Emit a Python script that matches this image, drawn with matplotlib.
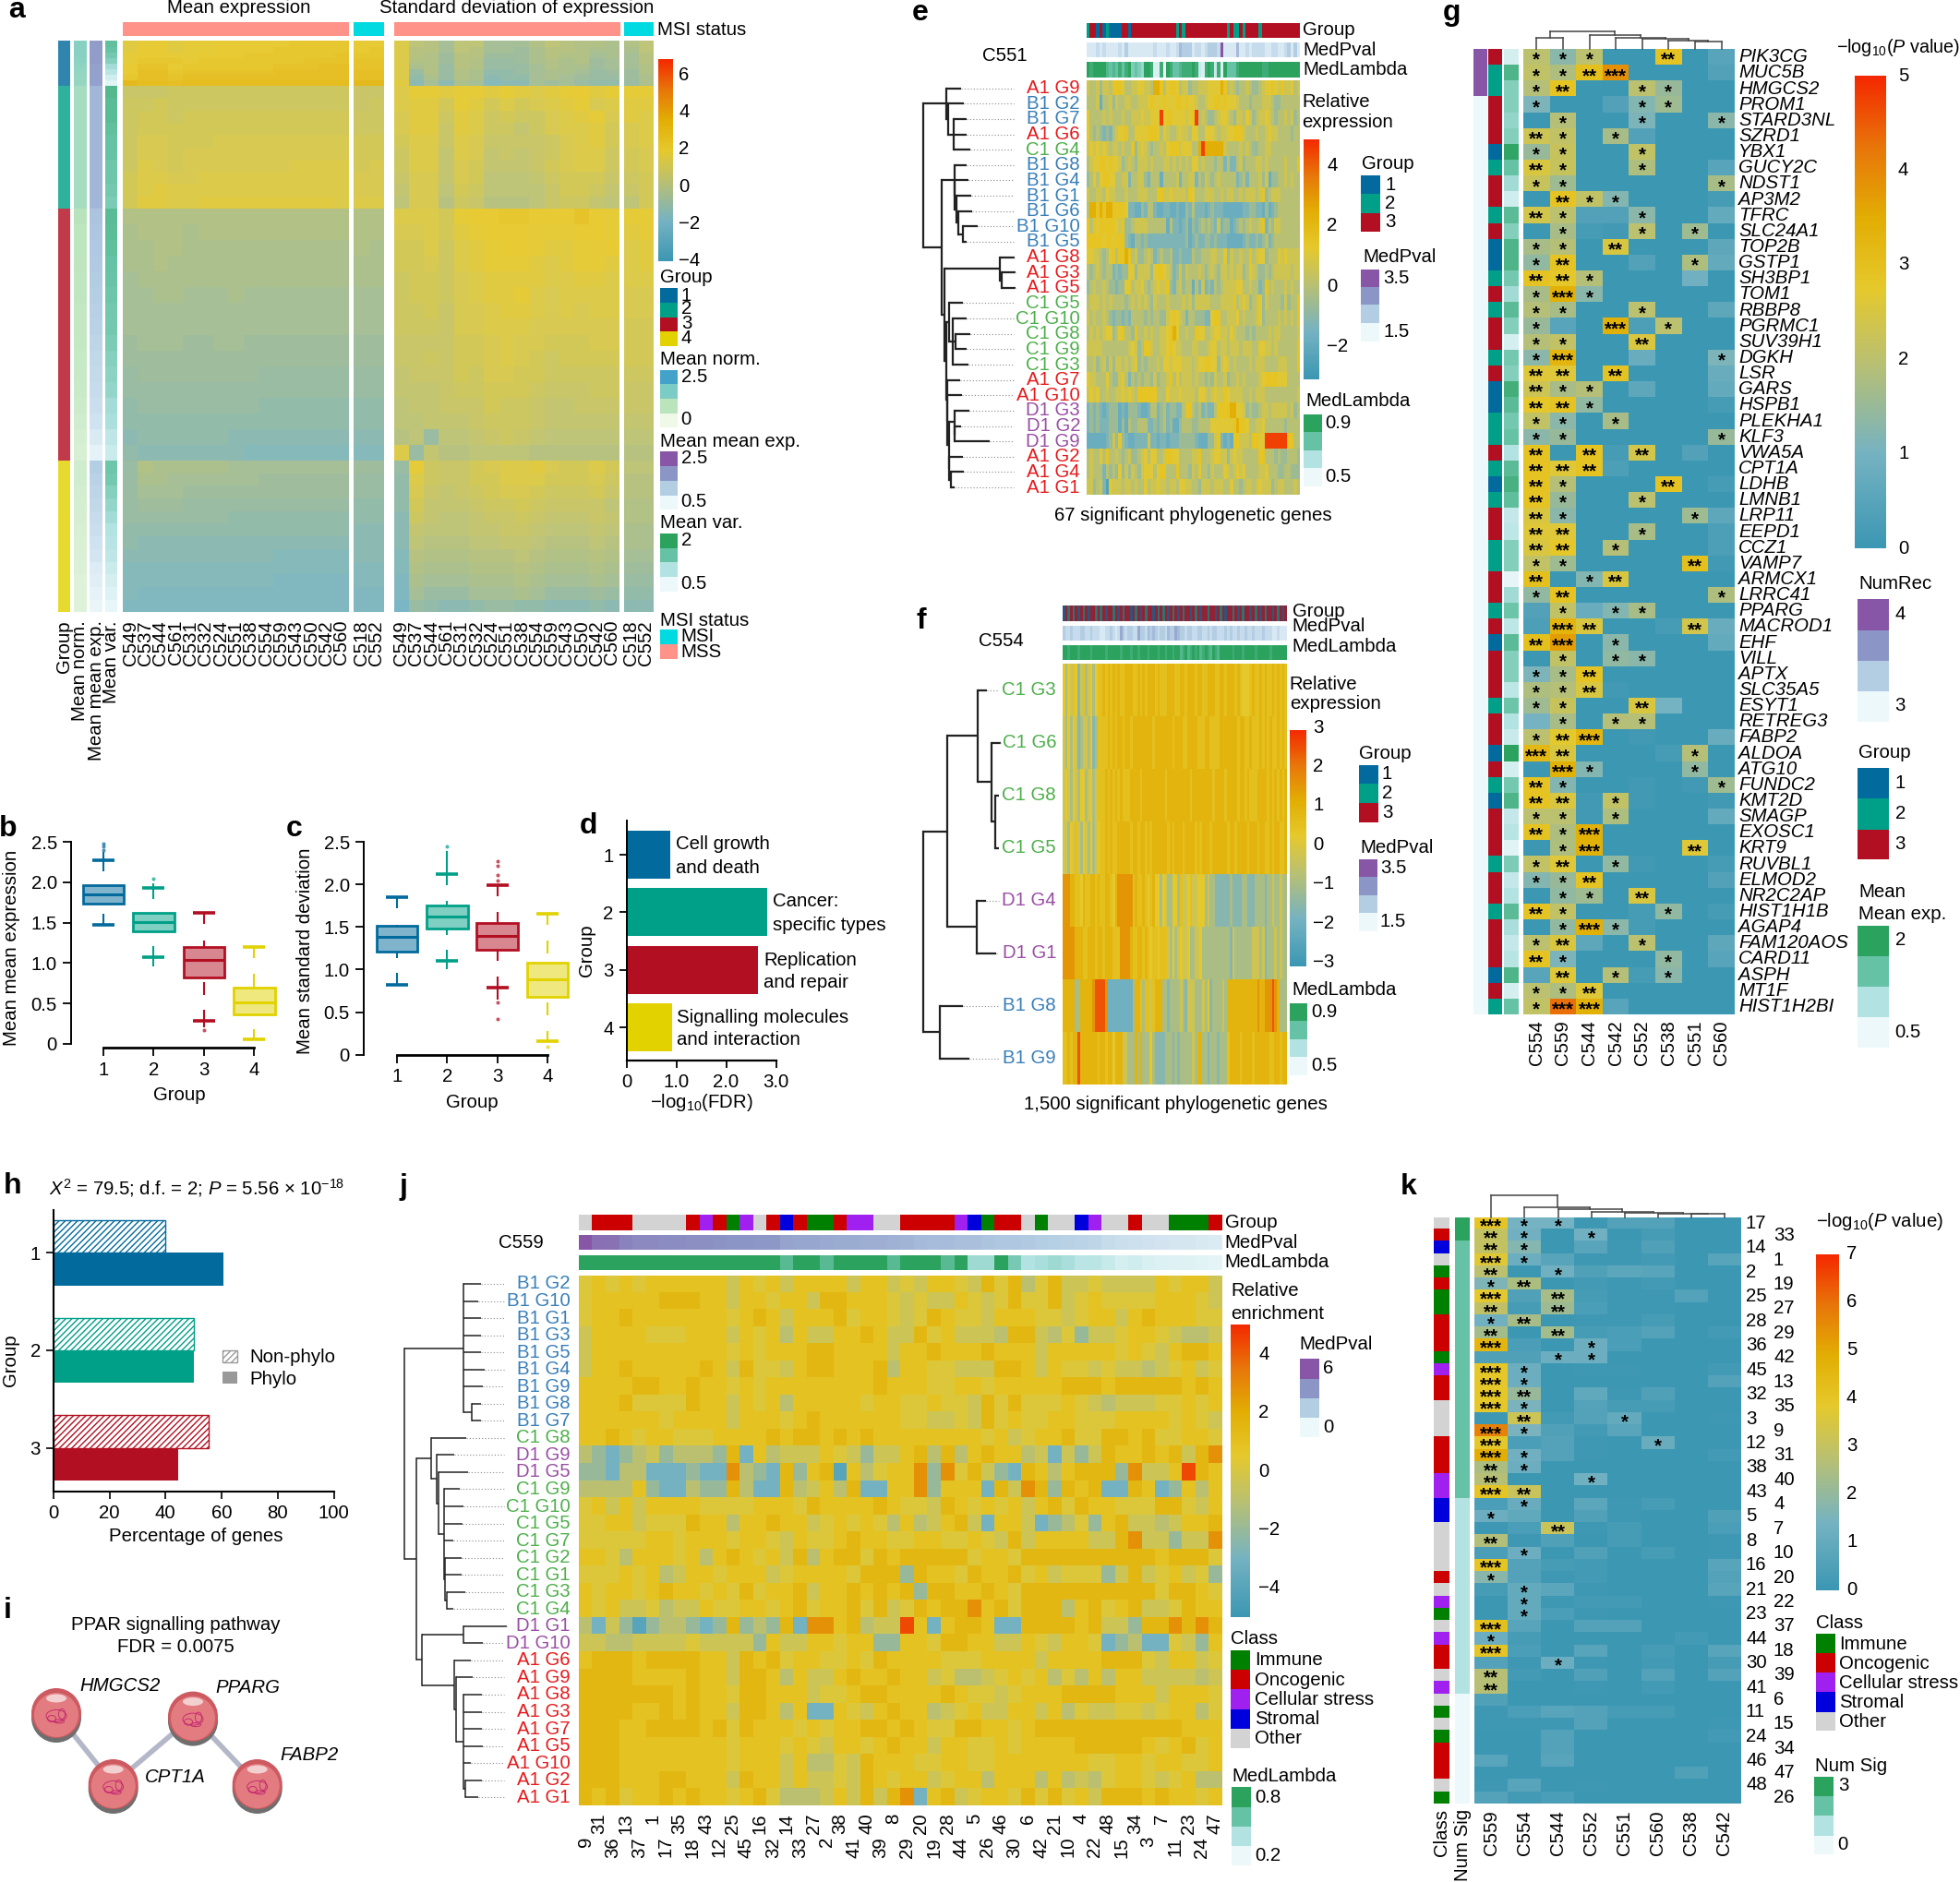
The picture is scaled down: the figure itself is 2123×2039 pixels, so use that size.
import matplotlib
matplotlib.use('Agg')
import numpy as np
import matplotlib.pyplot as plt
from matplotlib.colors import LinearSegmentedColormap, to_rgb
from matplotlib.patches import Rectangle, Circle, Ellipse

W, H = 2123, 2039
FS = 14.7
plt.rcParams['font.family'] = ['Liberation Sans', 'DejaVu Sans']
plt.rcParams['mathtext.fontset'] = 'custom'
plt.rcParams['mathtext.rm'] = 'Liberation Sans'
plt.rcParams['mathtext.it'] = 'Liberation Sans:italic'
plt.rcParams['mathtext.default'] = 'regular'
plt.rcParams['hatch.linewidth'] = 1.0

# ---------- shared colours ----------
GROUP_COL = {1: '#026A9C', 2: '#00A088', 3: '#B30F22', 4: '#E1D200'}
SET1 = {'A': '#E41A1C', 'B': '#377EB8', 'C': '#4DAF4A', 'D': '#984EA3'}
CLASS_COL = {'I': '#008000', 'O': '#CC0000', 'C': '#A020F0', 'S': '#0000DD', 'X': '#D3D3D3'}
MSI_COL = {'MSI': '#00DAE0', 'MSS': '#FF9289'}
GNBU = ['#f0f9e8', '#bae4bc', '#7bccc4', '#43a2ca']
BUPU = ['#edf8fb', '#b3cde3', '#8c96c6', '#8856a7']
BUGN = ['#edf8fb', '#b2e2e2', '#66c2a4', '#2ca25f']
HEAT = LinearSegmentedColormap.from_list('heat', [
    (0, '#3c97b3'), (.2, '#76b3c2'), (.4, '#bcc16f'), (.55, '#e6c92c'),
    (.7, '#e2ae04'), (.85, '#e8760a'), (1, '#f52800')])

# ---------- panel a ----------
A_MEAN_SAMPLES = ['C549', 'C537', 'C544', 'C561', 'C531', 'C532', 'C524', 'C551', 'C538',
                  'C554', 'C559', 'C543', 'C550', 'C542', 'C560']
A_MSI_SAMPLES = ['C518', 'C552']
A_ROW_GROUP = [1]*8 + [2]*10 + [3]*16 + [4]*12
A_ROW_WEIGHT = [6.1]*8 + [13.28]*10 + [17.06]*16 + [13.7]*12
# one base-36 character per cell, each step is 0.2 above -2.5
A_LEVEL_VALUES = [-2.5 + .2*k for k in range(36)]
A_MEAN = [
 'lmnlmmnnnnnoooonn', 'lnnlmmnnnnooooono', 'mnnmmnnnoooooopoo', 'mooonoooooooppppp',
 'nppnoooooopppqqpp', 'nqqoppppppqqqqqqq', 'oqqpqqqqqqqqqqqqq', 'srrqrrrrrrrrrrrss',
 'ggghhhhhhhhhhhhgg', 'hhihhhhhhhhhhhhgh', 'hiihiiiiiiiiiiihh', 'hiiiiiiiiiiiiiihh', 'hjjiiijjjjjjjjjii',
 'hjjijjjjjjjjjjjii', 'hkjijjjjjjjkkkkij', 'ikkjjkkkkkkkkkkjj', 'iklkkkkkkkkkkkkjj', 'illkklllllllllkkk',
 'ccccccccccccccccc', 'bcccbcccccccccccc', 'bbccbbbbbbbbbbbcb', 'bbcbbbbbbbbbbbbbb',
 'abbbbbbbbbbbbbbbb', 'aabbaaabaaaaaaaaa', 'aaaaaaaaaaaaaaaaa', 'aaaaaaaaaaaaaaaaa',
 '9aaa99aa999999999', '99999999999999999', '89999999988888888', '88888888888888888',
 '78888888877777777', '77777777777777777', '67777776666666666', '76666666555555555',
 '8cbbbbbaaaaaaaa99', '8bbaaaaaa99999988', '8aaa9999999999988', '89998888888888877',
 '88888887777777777', '77777777777777766', '76666666666666666', '66666666665555566',
 '55555555555555555', '55555555554444455', '54444444444444444', '44444444444444444']
A_SD = [
 'kedaeeaaacedccbce', 'kddaedaa9bddcbbbe', 'kdc9dd999bdccabad', 'kcc9dc889bcbc9aad',
 'kbc8dc888acbb9aac', 'k8c8cb778abba899c', 'k7b8cb677aba9889b', 'l6a6ba566a9a8778b',
 'kmmlmmlmlklmnlmmm', 'kllimlikijklmjkll', 'jllhlkhihhjklmjlk', 'jllglkhhfhjkklijk',
 'ikkgkjgggghjklijk', 'hkkfkjfgfghjkkhij', 'hkkfjifffgijkkhij', 'gjjfjieeefhiiighi',
 'fjjeiheeeegiihfgi', 'ejjdhgdddeghhfeei',
 'kkkimnnoonnnpnmmm', 'jjkilmnnnmmmnnmlm', 'iikhklmnnmllmmnkl', 'iijhklmmmlklmmlkl',
 'hiihjkllllkkllkkk', 'hiihjkllmkjkkkkjj', 'hhigjjkllkjkjkkjj', 'hhhgjjkkkjjjjjjii',
 'ggggiijkjjiiijjii', 'gghgiijkjihiiiiii', 'fgggihjjiihhhhhhh', 'fffghhiiihggghhgg',
 'effgggihhgffggggg', 'eefffghhhgfffffff', 'de8eefghgfeeeeeee', 'k8fddeeeedddddddd',
 '8mhggijkkljiikiee', '7khggiikkkiiijhdd', '7jgfghijjihhhigdd', '7ifffghhihggggecc',
 '6hfeefgghgfffgfcc', '6feeeffggfeeefebb', '6edddeeffedddedbb', '5dcccdddedcccdcaa',
 '5cbbbcccdcbbbcb99', '4baaabbbcbaaaba88', '4a888aaaba8889877', '38766788776667666']
A_NORM = [1.5, 1.5, 1.5, 1.45, 1.4, 1.35, 1.3, 1.3] + [1.1]*10 + [.85, .8, .8, .78, .75, .75, .72, .7, .68, .65, .62, .6, .55, .5, .45, .4] + [.5, .5, .47, .45, .42, .4, .38, .35, .33, .3, .3, .28]
A_MEXP = [1.75]*4 + [1.7]*4 + [1.45]*10 + [1.28, 1.25, 1.22, 1.2, 1.18, 1.15, 1.12, 1.1, 1.05, 1.0, .97, .95, .9, .85, .72, .6] + [1.15, 1.1, 1.05, 1.0, .95, .9, .85, .8, .7, .65, .6, .55]
A_MVAR = [1.55, 1.5, 1.4, 1.3, 1.1, .95, .75, .6] + [1.65, 1.6, 1.6, 1.55, 1.5, 1.5, 1.45, 1.45, 1.4, 1.35] + [1.6, 1.58, 1.55, 1.5, 1.48, 1.45, 1.42, 1.4, 1.35, 1.3, 1.25, 1.2, 1.1, 1.05, .9, .8] + [1.45, 1.4, 1.3, 1.2, 1.1, 1.0, .95, .9, .8, .7, .65, .55]

# ---------- panels b, c, d ----------
BOX_B = {'q1': [1.74, 1.39, .82, .36], 'med': [1.85, 1.51, 1.04, .51], 'q3': [1.96, 1.625, 1.2, .70]}
CAPS_B = [[2.27, 1.47], [1.925, 1.07], [1.62, .285], [1.2, .055]]
SEGS_B = [[(2.13, 2.37), (1.47, 1.61)], [(1.79, 1.99), (.96, 1.21)],
          [(1.48, 1.62), (1.2, 1.275), (.61, .765), (.2, .42)], [(1.065, 1.2), (.70, .87), (.055, .18)]]
DOTS_B = [[2.40, 2.44, 2.48, 2.54], [2.04], [.17], []]
BOX_C = {'q1': [1.21, 1.48, 1.23, .68], 'med': [1.38, 1.62, 1.40, .885], 'q3': [1.51, 1.75, 1.55, 1.08]}
CAPS_C = [[1.85, .825], [2.12, 1.10], [1.99, .785], [1.655, .155]]
SEGS_C = [[(1.72, 1.85), (1.51, 1.53), (1.14, 1.21), (.825, .96)],
          [(1.99, 2.39), (1.75, 1.81), (1.41, 1.48), (1.0, 1.23)],
          [(1.86, 1.99), (1.55, 1.675), (1.10, 1.23), (.65, .915)],
          [(1.52, 1.655), (1.19, 1.34), (.46, .61), (.155, .28)]]
DOTS_C = [[], [2.45], [2.27, 2.22, 2.11, 2.05, .61, .42], [.09]]
D_VALUES = [.88, 2.83, 2.64, .92]
D_TERMS = [('Cell growth', 'and death'), ('Cancer:', 'specific types'),
           ('Replication', 'and repair'), ('Signalling molecules', 'and interaction')]

# ---------- panel e ----------
E_ROWS = ['A1 G9', 'B1 G2', 'B1 G7', 'A1 G6', 'C1 G4', 'B1 G8', 'B1 G4', 'B1 G1', 'B1 G6', 'B1 G10', 'B1 G5',
          'A1 G8', 'A1 G3', 'A1 G5', 'C1 G5', 'C1 G10', 'C1 G8', 'C1 G9', 'C1 G3', 'A1 G7', 'A1 G10',
          'D1 G3', 'D1 G2', 'D1 G9', 'A1 G2', 'A1 G4', 'A1 G1']
E_LEVEL_VALUES = [-2.4, -1.8, -1.25, -.6, 0, .6, 1.1, 1.5, 2.4, 4.5]
E_MATRIX = [
 '5445355477764455665548874677645534455566668745434454334566765755645',
 '4445144535445544555676667666776766544566776766654443444555433444444',
 '6444454544454455565566696776666567945433456654355465345565434454534',
 '6434323245667446666777646544565546644666545566777544454456554444344',
 '5656565455454473565434454677756664489888888544445454334455444444444',
 '4566776766534543555454445545454546645444344242245344455454444454447',
 '3464677664455244553244414444524455243543454444423424445351334454544',
 '5445546554445444555444775565555476444555445455445455545734555444444',
 '4887878877776221132442112211211324222123222111111223322131234444444',
 '7476777776573345555444444142212313234343252331234345445724355444444',
 '7777767767773213323222222222222312322332322211111232232342344444444',
 '6655434674778745334542343342232224334445544635445447456634446565555',
 '4345434423233663555536776542353544454345435545455346543343455555455',
 '3454454332336645564345655732453441425232434555566445442374544454544',
 '4555454544443454545435444544445453555554445555745653456354444353447',
 '5454454323323244443434433567654244333226774455564544456344445454547',
 '4545456634674437445454455678644544766445665546544434344445455444445',
 '5555544444444565347754455676554445544456645545554555446655454444447',
 '4453453535545456343444546656665554566776635654544445455544445554447',
 '6554446433564243434435344574645554544343544534454544445677776664444',
 '5656445445565654777777444655565555466545655765555445455544444444445',
 '2323212333121333211244234233224774342322477778866534334554555554534',
 '2323222333131433444223234231134443344446666666787764455644444434444',
 '1111112353632112222522122122233333211133572121775554776699999997744',
 '4544647445434533456466445776644445574445665535655444447744434334443',
 '4544424343635354356664677444744435464435444654565644445564443344333',
 '5534520655545545446455655455466554435554555446443455456555345544454']
E_GROUP = '23313121111331' + '3'*14 + '232' + '3'*13 + '2322' + '32' + '3333' + '2' + '3'*12
E_PVAL = [1, 1, 1, 2, 1, 2, 1, 1, 1, 1, 2, 1, 3, 1, 1, 1, 1, 1, 1, 1, 1, 2, 1, 1, 1, 2, 1, 1, 2, 4, 3, 3, 3, 1, 2, 2, 1, 2, 3, 3, 3, 2, 9, 1, 1, 1, 1, 4, 1, 1, 2, 1, 2, 2, 2, 2, 1, 1, 2, 2, 1, 1, 2, 3, 1, 3, 1]
E_LAM = [9, 8, 9, 9, 9, 9, 7, 6, 7, 6, 8, 6, 8, 9, 5, 6, 5, 4, 9, 9, 8, 1, 1, 8, 0, 9, 8, 6, 6, 7, 8, 8, 8, 9, 8, 2, 1, 8, 9, 8, 2, 8, 1, 9, 6, 6, 6, 8, 9, 9, 9, 9, 9, 9, 9, 8, 8, 9, 9, 9, 9, 9, 9, 9, 9, 9, 9]
E_TREE = (55,
          (127, 170, (132, 178, (148, 188, 188, 200))),
          (113,
           (150, 188, (152, 193, (158, 202, (162, 203, (177, 220, 188))))),
           (120,
            (288, 333, (295, 335, 335)),
            (125,
             (135, 175, (145, 188, (155, 198, 188), 192)),
             (128, 168, (130, 173, (133, (150, 197, (152, 172, 258)), (135, 175, (140, 180, 150)))))))))

# ---------- panel f ----------
F_ROWS = ['C1 G3', 'C1 G6', 'C1 G8', 'C1 G5', 'D1 G4', 'D1 G1', 'B1 G8', 'B1 G9']
F_LEVEL_VALUES = [-2.3, -2.0, -1.6, -1.0, -.3, .2, .5, .9, 1.5, 2.4]
F_MATRIX = [
 '535465246345356676767676677766767677767666777667767776776677766776777676555676676766767676',
 '435354234435236666767677677677777777677777776777667777666776666777777767766766676767667676',
 '454354355345346667676767666777767777777776777777777677777777677776777767767666777767676767',
 '443546435435345667676677777677677676777777676777677776767776777777677677776777677667677667',
 '888776657667767667765788888867667656755354335536445644555343322222232222332223333233433433',
 '888887776677767767776668888766776765665666435345445334453333333333324333333344434233343433',
 '7777733777778999981111111111377636646777332333343244433343523333437777777777778778889873333',
 '6676779777777767767757774433373733353222233323233333437733233323336777767777677777766776776']
F_GROUP = '132323132313323231332313233132313233132323132313233132313323313231332313233132313233132313'
F_PVAL = [3, 2, 2, 3, 2, 2, 2, 3, 3, 2, 2, 3, 2, 2, 2, 1, 1, 2, 2, 3, 2, 1, 2, 5, 3, 2, 3, 3, 2, 2, 5, 3, 3, 2, 4, 3, 4, 3, 2, 3, 3, 2, 4, 3, 3, 5, 4, 3, 3, 2, 3, 3, 2, 2, 3, 3, 2, 2, 3, 2, 3, 3, 2, 2, 2, 3, 2, 3, 2, 2, 3, 2, 2, 3, 2, 2, 3, 2, 2, 2, 3, 2, 2, 2, 1, 1, 2, 1, 1, 1]
F_LAM = [9, 9, 8, 9, 9, 9, 8, 9, 9, 9, 9, 8, 9, 9, 9, 9, 9, 8, 9, 9, 9, 9, 9, 8, 9, 9, 9, 8, 9, 9, 8, 9, 9, 9, 8, 9, 9, 9, 8, 9, 9, 8, 9, 9, 8, 9, 9, 7, 8, 9, 7, 8, 9, 8, 9, 7, 8, 9, 8, 7, 9, 8, 7, 9, 9, 9, 9, 9, 8, 9, 9, 9, 8, 9, 9, 9, 9, 8, 9, 9, 9, 9, 9, 8, 9, 9, 9, 9, 9, 9]
F_TREE = (57,
          (128, (222, 250, (262, 290, (275, 285, 285))), (217, 245, 278)),
          (105, 175, 197))

# ---------- panel g ----------
G_GENES = ['PIK3CG', 'MUC5B', 'HMGCS2', 'PROM1', 'STARD3NL', 'SZRD1', 'YBX1', 'GUCY2C', 'NDST1', 'AP3M2', 'TFRC',
           'SLC24A1', 'TOP2B', 'GSTP1', 'SH3BP1', 'TOM1', 'RBBP8', 'PGRMC1', 'SUV39H1', 'DGKH', 'LSR', 'GARS', 'HSPB1',
           'PLEKHA1', 'KLF3', 'VWA5A', 'CPT1A', 'LDHB', 'LMNB1', 'LRP11', 'EEPD1', 'CCZ1', 'VAMP7', 'ARMCX1', 'LRRC41',
           'PPARG', 'MACROD1', 'EHF', 'VILL', 'APTX', 'SLC35A5', 'ESYT1', 'RETREG3', 'FABP2', 'ALDOA', 'ATG10', 'FUNDC2',
           'KMT2D', 'SMAGP', 'EXOSC1', 'KRT9', 'RUVBL1', 'ELMOD2', 'NR2C2AP', 'HIST1H1B', 'AGAP4', 'FAM120AOS', 'CARD11',
           'ASPH', 'MT1F', 'HIST1H2BI']
G_SAMPLES = ['C554', 'C559', 'C544', 'C542', 'C552', 'C538', 'C551', 'C560']
G_VALUES = [
 [2.0, 1.3, 2.0, 0, 0, 2.9, 0, .5], [2.1, 1.8, 3.0, 3.9, 0, 0, 0, .4], [1.9, 2.9, 0, 0, 2.0, 1.5, 0, 0],
 [1.1, 0, 0, .4, 1.2, 1.6, 0, 0], [0, 1.9, 0, 0, 1.1, 0, 0, 1.3], [2.3, 2.1, 0, 1.7, .4, 0, 0, 0],
 [1.5, 2.2, 0, 0, 2.1, 0, 0, 0], [2.5, 2.2, 0, 0, 1.8, 0, 0, .5], [2.2, 1.6, 0, 0, 0, 0, 0, 1.7],
 [0, 2.9, 2.1, 1.2, 0, 0, 0, .2], [2.4, 2.0, .4, .4, 1.3, 0, 0, .7], [0, 1.7, .2, .1, 2.0, 0, 1.6, 0],
 [1.7, 1.9, 0, 2.5, 0, 0, 0, .6], [1.4, 2.9, 0, 0, .4, 0, 1.8, .7], [2.9, 2.8, 1.9, 0, 0, 0, .9, 0],
 [1.7, 3.4, 1.3, 0, 0, 0, 0, 0], [1.9, 1.7, 0, 0, 2.0, 0, 0, .6], [1.5, .5, 0, 3.4, .3, 2.0, 0, 0],
 [1.9, 2.1, 0, 0, 2.5, 0, 0, 0], [1.3, 3.3, 0, 0, .8, 0, 0, 1.1], [2.6, 2.6, 0, 2.9, 0, 0, 0, .8],
 [2.3, 1.7, 1.9, 0, .6, 0, 0, .7], [2.8, 2.9, 1.4, 0, 0, 0, 0, .2], [2.1, 1.3, 0, 1.7, 0, 0, 0, 0],
 [1.3, 1.5, 0, 0, 0, 0, 0, 1.5], [2.9, 0, 2.9, .2, 2.4, 0, .4, 0], [2.9, 2.6, 2.9, .3, 0, 0, 0, 0],
 [2.9, 1.9, 0, 0, 0, 2.9, 0, .2], [2.9, 1.5, 0, 0, 2.0, 0, 0, 0], [2.5, 1.3, 0, 0, 0, 0, 1.6, .6],
 [2.6, 2.6, 0, 0, 1.7, 0, 0, .3], [2.5, 2.8, 0, 1.9, 0, 0, 0, .3], [2.1, 1.6, 0, 0, 0, 0, 3.0, .1],
 [3.0, 0, 1.2, 2.5, 0, 0, 0, 0], [1.4, 2.9, 0, 0, 0, 0, 0, 1.8], [.4, 2.1, .8, 1.2, 1.7, 0, 0, 0],
 [.3, 3.3, 2.5, 0, 0, .2, 2.4, .8], [3.0, 3.7, 0, 1.3, 0, 0, 0, .7], [0, 2.1, 0, 1.4, 1.3, 0, 0, 0],
 [1.1, 1.7, 2.9, 0, 0, 0, 0, 0], [1.8, 1.9, 2.5, .1, 0, 0, 0, 0], [1.6, 2.2, 0, 0, 2.5, 1.0, 0, 0],
 [1.0, 1.7, 0, 1.9, 1.9, 0, 0, 0], [2.0, 2.7, 3.3, 0, .1, 0, 0, .8], [3.2, 2.5, 0, 0, 0, .2, 1.9, 0],
 [0, 3.4, 1.2, 0, 0, 0, 1.4, 0], [2.9, 1.2, 0, 0, .1, 0, .1, 1.6], [2.9, 2.5, .1, 2.1, .1, 0, 0, .1],
 [2.0, 2.0, .1, 1.8, 0, 0, 0, .7], [2.9, 1.8, 3.4, 0, 0, 0, 0, 0], [0, 1.8, 3.4, 0, 0, 0, 2.6, 0],
 [2.1, 2.6, 0, 1.4, .1, 0, 0, .2], [1.2, 1.5, 2.9, 0, 0, 0, 0, .4], [0, 1.4, 1.6, 0, 2.5, 0, 0, 0],
 [2.9, 2.1, 0, 0, .2, 1.4, 0, .2], [0, 1.4, 3.4, 1.3, .2, 0, 0, 0], [2.0, 2.5, .6, 0, 2.0, 0, 0, .6],
 [2.9, 1.1, 0, 0, 0, 1.4, 0, .5], [.5, 2.6, 0, 1.9, .2, 1.3, 0, 0], [2.0, 1.8, 2.6, 0, 0, 0, 0, 0],
 [2.1, 4.3, 3.4, .5, 0, 0, 0, 0]]
G_GROUP = [3, 2, 2, 3, 3, 3, 1, 2, 3, 3, 2, 3, 1, 1, 2, 3, 2, 3, 3, 2, 3, 1, 1, 2, 2, 3, 2, 1, 2, 3, 3, 2, 2, 3, 3, 2, 3, 1, 3, 3, 3, 2, 3, 3, 1, 3, 2, 1, 3, 3, 3, 2, 3, 3, 2, 3, 3, 3, 1, 3, 2]
G_MEAN = [.7, 1.7, 1.3, 1.3, 1.2, 1.3, 1.95, 1.5, 1.1, .75, 1.6, 1.3, 1.7, 1.7, 1.4, 1.1, 1.6, 1.3, .7, 1.4, 1.3, 1.8, 1.6, 1.4, 1.5, 1.0, 1.6, 1.75, 1.55, .85, .9, 1.3, 1.3, .55, 1.1, 1.45, .9, 1.6, 1.3, 1.3, .9, 1.45, 1.0, .8, 2.0, .7, 1.4, 1.7, .85, .95, .6, 1.35, .85, 1.0, 1.6, 1.05, .85, .95, 1.7, .7, 1.5]
G_NUMREC = [4, 4, 4] + [3]*58
G_TREE = (88, (108, 0, 1), (100, 2, (107, 3, (111, 4, (115, 5, (118, 6, 7))))))

# ---------- panel h ----------
H_GROUPS = [1, 2, 3]
H_NONPHYLO = [40, 50, 55.5]
H_PHYLO = [60.5, 50, 44.5]

# ---------- panel j ----------
J_ROWS = ['B1 G2', 'B1 G10', 'B1 G1', 'B1 G3', 'B1 G5', 'B1 G4', 'B1 G9', 'B1 G8', 'B1 G7', 'C1 G8', 'D1 G9', 'D1 G5',
          'C1 G9', 'C1 G10', 'C1 G5', 'C1 G7', 'C1 G2', 'C1 G1', 'C1 G3', 'C1 G4', 'D1 G1', 'D1 G10', 'A1 G6', 'A1 G9',
          'A1 G8', 'A1 G3', 'A1 G7', 'A1 G5', 'A1 G10', 'A1 G2', 'A1 G1']
J_COLS = [9, 31, 36, 13, 37, 1, 17, 35, 18, 43, 12, 25, 45, 16, 32, 14, 33, 27, 2, 38, 41, 40, 39, 8, 29, 20, 19, 28, 44, 5, 26, 46,
          30, 6, 42, 21, 10, 4, 22, 48, 15, 34, 3, 7, 11, 23, 24, 47]
J_LEVEL_VALUES = [-4, -3, -2, -1, -.4, .2, .9, 1.5, 2.8, 4.4]
J_MATRIX = [
 '5656566666646564' '6666466454665475' '7357445444465664',
 '5666667776646656' '6477666545446545' '7557456555566654',
 '5667666666656764' '6667566545765546' '6655456646766655',
 '4666655566646563' '6446676447564443' '7743524456654334',
 '4666666666656566' '6776666466766676' '6646666656546776',
 '4667666667647554' '6776667366554447' '7646554544345645',
 '6666776676656566' '6666667666556656' '6666777677777676',
 '6667555576646563' '6666656655655475' '7555654344455656',
 '6666665666646665' '6766666655445475' '6556655566665654',
 '6676566555666676' '7767676666666656' '4566755776755665',
 '3212342333271634' '4465424467373676' '6341424766767478',
 '2213311121183217' '2670635668285742' '1763677728446976',
 '3333621132273117' '3463711668266617' '4872767117612636',
 '5646466665555666' '5766667655476565' '6467576655577546',
 '5566455576636676' '6456565363467416' '6412352674434667',
 '5555566566656654' '6556766556655654' '7466664478442448',
 '6653666563676564' '7367757677777566' '5777777777767775',
 '5556563466566645' '6666577727665766' '7564555247456452',
 '6566567665657566' '7466767672776676' '5777777777757765',
 '6564453446556656' '7566757457677867' '5777367567445766',
 '3142023321272327' '1886734496167761' '1777767442778787',
 '4433444454444264' '4665662266577664' '4654665123115426',
 '6777677776647675' '6655657666655566' '6646666777546645',
 '7777666676647763' '6446766766453345' '6563536366444434',
 '7777777676657766' '6455677666676554' '5666777766646665',
 '7777667676647763' '6116546766345644' '6646354455456635',
 '7776677776757666' '5656677676557766' '5677777777777666',
 '7776666666656665' '6546656766466556' '5666677777656756',
 '7776666666656664' '6335476665566556' '6666665566566556',
 '7776667766647664' '6445476566456636' '6636343566545633',
 '7675667676656753' '3346474781674566' '5757564777676656']
J_PVAL = [6, 5.2, 5.1, 4.6, 4.4, 4.4, 4.3, 4.3, 4.2, 4.2, 4.1, 4.0, 4.0, 3.9, 3.9, 3.5, 3.4, 3.4, 3.3, 3.2, 3.2, 3.1, 3.1, 3.0, 2.9,
          2.7, 2.6, 2.6, 2.5, 2.5, 2.3, 2.2, 2.2, 2.1, 2.0, 1.9, 1.8, 1.7, 1.6, 1.3, 1.2, 1.1, 1.0, .9, .8, .8, .7, .6]
J_LAM = [.8]*15 + [.65] + [.8]*2 + [.65] + [.8]*4 + [.65] + [.8]*3 + [.65] + [.8] + [.45, .45] + [.8] + [.55] + [.4, .42, .45, .42, .37, .37, .33, .28, .3, .27, .26, .25, .25, .24, .23, .22]
J_TREE = (18,
          (172, 217, 208, 217, 217, 217, 225, 222, (193, 217, 217)),
          (50,
           (88, 178, (103, 147, (108, 182, (120, 162, 170, 168, 145, (124, 167, 167, (128, 175, 146)))))),
           (64, (170, 283, 220),
            (148, 190, (152, 194, (172, 218, 218, 218, 222, 190, (176, 218, 208)))))))

# ---------- panel k ----------
K_IDS = [17, 33, 14, 1, 2, 19, 25, 27, 28, 29, 36, 42, 45, 13, 32, 35, 3, 9, 12, 31, 38, 40, 43, 4, 5, 7, 8, 10, 16, 20, 21, 22, 23, 37,
         44, 18, 30, 39, 41, 6, 11, 15, 24, 34, 46, 47, 48, 26]
K_SAMPLES = ['C559', 'C554', 'C544', 'C552', 'C551', 'C560', 'C538', 'C542']
K_CLASS = 'XOSXIOIIOOOICOOXXXOOOCCSSXXXXOXCIXCOOXCXIXIOOOXI'
K_VALUES = [
 [4.0, 1.4, 1.4, .1, .6, .6, 0, 0], [3.0, 1.3, 0, 1.3, 0, .3, 0, 0], [3.0, 1.7, 0, .7, .1, .5, 0, 0], [3.7, 1.2, .7, .1, .1, .2, 0, .7],
 [2.8, 0, 1.3, .5, .8, .7, 0, 0], [1.6, 2.5, 0, .2, .1, .2, 0, 0], [3.8, .5, 2.4, .3, .1, .1, .6, 0], [2.9, .3, 2.2, .4, .1, .1, 0, 0],
 [1.3, 2.4, 0, .1, .1, .3, 0, 0], [2.3, 0, 2.3, .3, .4, .6, 0, .2], [4.6, .4, 0, 1.2, .4, 0, 0, 0], [.5, .5, 1.2, 1.2, 0, 0, 0, 0],
 [3.9, 1.2, 0, .1, .1, 0, 0, .2], [3.9, 1.2, 0, 0, 0, 0, 0, .6], [3.9, 2.1, 0, .9, .1, .5, 0, 0], [3.9, 1.5, 0, .6, .3, .3, 0, 0],
 [.1, 3.2, .2, .6, 1.0, 0, 0, .1], [5.7, 1.5, .5, .2, .7, 0, 0, 0], [3.9, .4, .6, .1, 0, 1.1, 0, 0], [4.9, 1.3, .6, .1, 0, 0, 0, .2],
 [2.5, 1.2, 0, 0, 0, 0, 0, 0], [2.7, 0, 0, 1.3, 0, 0, 0, 0], [4.0, 3.1, 0, 0, 0, 0, 0, 0], [.4, 1.1, 0, .8, .1, .3, 0, 0],
 [1.2, .9, 0, .5, .1, 0, 0, .5], [.1, .4, 3.1, .1, .3, 0, 0, .4], [2.6, .1, .5, 0, .3, 0, 0, .1], [.4, 1.2, 0, .5, 0, .3, 0, .1],
 [4.0, .6, .3, .2, 0, 0, 0, .7], [1.8, .6, .1, .2, 0, 0, 0, .6], [.3, 1.0, .8, .1, 0, 0, 0, .7], [0, 1.0, .1, .2, .2, 0, 0, .1],
 [0, 1.0, .4, .1, 0, 0, 0, 0], [4.2, .7, 0, .6, .6, 0, 0, 0], [1.2, .3, 0, 0, 0, 0, .2, 0], [4.0, .4, 0, .7, 0, .3, 0, .7],
 [.6, .1, 1.2, .1, 0, .2, 0, .3], [2.7, .2, 0, .5, 0, .6, 0, .6], [2.7, 0, 0, .1, 0, .2, 0, 0], [.5, 0, 0, 0, 0, 0, 0, 0],
 [.1, .4, .7, .6, .3, .3, 0, 0], [.1, .1, .1, .6, 0, 0, 0, .1], [0, 0, .6, 0, 0, 0, 0, .2], [0, 0, .6, 0, 0, 0, 0, 0],
 [.7, 0, .7, 0, 0, 0, 0, 0], [0, 0, 0, 0, 0, 0, .5, 0], [.1, .7, 0, .1, 0, 0, 0, 0], [.6, .2, .4, 0, 0, 0, 0, 0]]
K_NUMSIG = [3]*2 + [2]*21 + [1]*16 + [0]*9
K_TREE = (30, 0, (57, 1, (62, 2, (68, 3, (70, 4, (72, 5, (73, 6, 7)))))))

# ---------- helpers ----------
fig = plt.figure(figsize=(W/100, H/100), dpi=100, facecolor='white')


def box(x0, y0, x1, y1, **kw):
    return fig.add_axes([x0/W, 1-y1/H, (x1-x0)/W, (y1-y0)/H], **kw)


ov = fig.add_axes([0, 0, 1, 1], zorder=20)
ov.set_xlim(0, W)
ov.set_ylim(H, 0)
ov.axis('off')


def T(x, y, s, ha='left', va='center', size=FS, **kw):
    return ov.text(x, y, s, ha=ha, va=va, fontsize=size, **kw)


def decode(strings, levels, n):
    out = []
    for s in strings:
        s = s.ljust(n, s[-1])[:n]
        out.append([levels[int(c, 36)] for c in s])
    return np.array(out, float)


def heat(b, M, vmin, vmax):
    ax = box(*b)
    ax.imshow(M, aspect='auto', interpolation='nearest', cmap=HEAT, vmin=vmin, vmax=vmax)
    ax.axis('off')
    return ax


def strip(b, colours, horizontal=True):
    arr = np.array([to_rgb(c) for c in colours])
    arr = arr[None, :, :] if horizontal else arr[:, None, :]
    ax = box(*b)
    ax.imshow(arr, aspect='auto', interpolation='nearest')
    ax.axis('off')


def ramp(cols, vals, lo, hi):
    cm = LinearSegmentedColormap.from_list('r', cols)
    return [cm((v-lo)/(hi-lo)) for v in vals]


def colorbar(b, ticks, vmin, vmax, labelx):
    ax = box(*b)
    ax.imshow(np.linspace(1, 0, 256)[:, None], aspect='auto', cmap=HEAT, vmin=0, vmax=1)
    ax.axis('off')
    for v in ticks:
        y = b[3]-(v-vmin)/(vmax-vmin)*(b[3]-b[1])
        T(labelx, y, str(v).replace('-', '\u2212'))


def swatches(x0, x1, ys, cols):
    for i, c in enumerate(cols):
        ov.add_patch(Rectangle((x0, ys[i]), x1-x0, ys[i+1]-ys[i], fc=c, ec='none'))


def tree(node, leaf_pos, conv, end=None, lw=1.5):
    """Draw a nested (height, child, ...) tree; leaves take the next slot."""
    it = iter(leaf_pos)

    def rec(n):
        if not isinstance(n, tuple):
            return conv(n), next(it), True
        h = conv(n[0])
        kids = [rec(c) for c in n[1:]]
        ps = [k[1] for k in kids]
        for kh, kp, leaf in kids:
            ov.plot([h, kh], [kp, kp], color='#222222', lw=lw, solid_capstyle='butt')
            if leaf and end is not None:
                ov.plot([kh, end], [kp, kp], color='#888888', lw=.8, ls=(0, (1, 2)))
        ov.plot([h, h], [min(ps), max(ps)], color='#222222', lw=lw, solid_capstyle='projecting')
        return h, (min(ps)+max(ps))/2, False
    rec(node)


def top_tree(node, xs, y0, conv, lw=1.1):
    def rec(n):
        if not isinstance(n, tuple):
            return xs[n], y0
        h = conv(n[0])
        kids = [rec(c) for c in n[1:]]
        px = [k[0] for k in kids]
        for kx, ky in kids:
            ov.plot([kx, kx], [h, ky], color='#444444', lw=lw)
        ov.plot([min(px), max(px)], [h, h], color='#444444', lw=lw)
        return (min(px)+max(px))/2, h
    rec(node)


def stars(x, y, v, t1, t2, t3):
    n = 3 if v >= t3 else 2 if v >= t2 else 1 if v >= t1 else 0
    if n:
        T(x, y+3.5, '*'*n, ha='center', color='#000000', fontweight='bold')


def rowlabels(rows, x, ys):
    for r, y in zip(rows, ys):
        T(x, y, r, ha='right', color=SET1[r[0]])


# panel letters
for s, x, y in [('a', 18, 11), ('b', 9, 898), ('c', 319, 898), ('d', 637, 895), ('e', 997, 14), ('f', 998, 673),
                ('g', 1573, 14), ('h', 14, 1285), ('i', 8, 1745), ('j', 437, 1286), ('k', 1526, 1286)]:
    T(x, y, s, ha='center', size=23, fontweight='bold')

# ---------- draw a ----------
yedges = np.concatenate([[0], np.cumsum(A_ROW_WEIGHT)])
A_TOP, A_BOT = 44.4, 663.4
mean_m = decode(A_MEAN, A_LEVEL_VALUES, 17)
sd_m = decode(A_SD, A_LEVEL_VALUES, 17)
for (x0, x1), M, cols in [((133, 378), mean_m, (0, 15)), ((383, 416), mean_m, (15, 17)),
                          ((426.5, 671), sd_m, (0, 15)), ((676, 708), sd_m, (15, 17))]:
    ax = box(x0, A_TOP, x1, A_BOT)
    sub = M[:, cols[0]:cols[1]]
    ax.pcolormesh(np.arange(sub.shape[1]+1), yedges, sub, cmap=HEAT, vmin=-4, vmax=6.85, alpha=.95)
    ax.set_ylim(yedges[-1], 0)
    ax.axis('off')
    names = A_MEAN_SAMPLES if cols[1]-cols[0] == 15 else A_MSI_SAMPLES
    strip((x0, 24, x1, 39), [MSI_COL['MSS'] if len(names) == 15 else MSI_COL['MSI']]*len(names))
    w = (x1-x0)/len(names)
    for i, n in enumerate(names):
        T(x0+(i+.5)*w, 672, n, ha='center', va='top', rotation=90)


def lighten(c, a=.82):
    r = np.array(to_rgb(c))
    return tuple(r*a+(1-a))


def mute(c, a=.55):
    r = np.array(to_rgb(c))
    return tuple(r*a+np.array(to_rgb('#6a3a50'))*(1-a))


def ystrip(x0, x1, cols):
    ax = box(x0, A_TOP, x1, A_BOT)
    arr = np.array([to_rgb(c) for c in cols])[:, None, :]
    ax.pcolormesh([0, 1], yedges, arr)
    ax.set_ylim(yedges[-1], 0)
    ax.axis('off')


ystrip(63, 76, [lighten(GROUP_COL[g]) for g in A_ROW_GROUP])
ystrip(80, 94, ramp(GNBU, A_NORM, 0, 2.5))
ystrip(97, 111, ramp(BUPU, A_MEXP, .5, 2.5))
ystrip(114, 127, ramp(BUGN, A_MVAR, .5, 2))
for x, s in [(69.5, 'Group'), (87, 'Mean norm.'), (104, 'Mean mean exp.'), (120.5, 'Mean var.')]:
    T(x, 672, s, ha='center', va='top', rotation=90)
T(259, 9, 'Mean expression', ha='center')
T(560, 9, 'Standard deviation of expression', ha='center')
T(712, 32.5, 'MSI status')
colorbar((713, 64, 728.5, 283), [-4, -2, 0, 2, 4, 6], -4, 6.85, 735)
T(714.7, 301, 'Group')
swatches(714.7, 734, [312, 328, 343.6, 359, 374.5], [GROUP_COL[i] for i in (1, 2, 3, 4)])
for i, y in enumerate([320, 335, 350.7, 366.4]):
    T(737.7, y, str(i+1))
T(714.7, 389.7, 'Mean norm.')
swatches(714.7, 734, [401, 416, 432, 447.7, 463.4], GNBU[::-1])
T(737.7, 408, '2.5')
T(737.7, 455, '0')
T(714.7, 478.6, 'Mean mean exp.')
swatches(714.7, 734, [489.4, 505, 520.9, 536.6, 551.8], BUPU[::-1])
T(737.7, 497, '2.5')
T(737.7, 543.6, '0.5')
T(714.7, 567, 'Mean var.')
swatches(714.7, 734, [577.8, 593.5, 609.2, 625, 640.7], BUGN[::-1])
T(737.7, 585.4, '2')
T(737.7, 632.5, '0.5')
T(714.7, 672, 'MSI status')
swatches(714.7, 734, [681.8, 698, 713.8], [MSI_COL['MSI'], MSI_COL['MSS']])
T(737.7, 689.4, 'MSI')
T(737.7, 706, 'MSS')


# ---------- draw b, c ----------
def boxpanel(b, xlim, ylim, stats, caps, segs, dots):
    ax = box(*b)
    ax.patch.set_alpha(0)
    for i in range(4):
        c = GROUP_COL[i+1]
        s = [{'med': stats['med'][i], 'q1': stats['q1'][i], 'q3': stats['q3'][i],
              'whislo': stats['q1'][i], 'whishi': stats['q3'][i], 'fliers': []}]
        ax.bxp(s, positions=[i+1], widths=.82, showcaps=False, showfliers=False, patch_artist=True,
               manage_ticks=False,
               boxprops=dict(facecolor=(*to_rgb(c), .5), edgecolor=c, lw=2),
               medianprops=dict(color=c, lw=2.2), whiskerprops=dict(lw=0))
        for lo, hi in segs[i]:
            ax.vlines(i+1, lo, hi, color=c, lw=1.5)
        ax.hlines(caps[i], i+.78, i+1.22, color=c, lw=2.6)
        ax.plot([i+1]*len(dots[i]), dots[i], 'o', color=c, ms=2, alpha=.6)
    ax.set_xlim(*xlim)
    ax.set_ylim(*ylim)
    for s in ('top', 'right'):
        ax.spines[s].set_visible(False)
    ax.spines['left'].set_bounds(0, 2.5)
    ax.spines['bottom'].set_bounds(1, 4)
    ax.spines['left'].set_linewidth(1.4)
    ax.spines['bottom'].set_linewidth(2.0)
    ax.set_xticks([1, 2, 3, 4])
    ax.set_yticks([0, .5, 1, 1.5, 2, 2.5], ['0', '0.5', '1.0', '1.5', '2.0', '2.5'])
    ax.tick_params(labelsize=FS, length=6.5, width=1.3, pad=4)
    return ax


boxpanel((76.5, 912, 300, 1135), (.349, 4.45), (-.046, 2.5), BOX_B, CAPS_B, SEGS_B, DOTS_B)
T(12.8, 1027, 'Mean mean expression', ha='center', rotation=90)
T(194, 1186.7, 'Group', ha='center')
boxpanel((393.5, 912, 620, 1142.7), (.328, 4.5), (0, 2.5), BOX_C, CAPS_C, SEGS_C, DOTS_C)
T(330, 1030, 'Mean standard deviation', ha='center', rotation=90)
T(511.5, 1194, 'Group', ha='center')

# ---------- draw d ----------
ax = box(678.5, 888.7, 860, 1148.7)
ax.patch.set_alpha(0)
ax.barh([1, 2, 3, 4], D_VALUES, height=.835, color=[GROUP_COL[i] for i in (1, 2, 3, 4)])
ax.set_xlim(0, 3*(860-678.5)/162)
ax.set_ylim(4.57, .402)
for s in ('top', 'right'):
    ax.spines[s].set_visible(False)
ax.spines['bottom'].set_bounds(0, 3)
ax.spines['left'].set_linewidth(1.4)
ax.spines['bottom'].set_linewidth(1.6)
ax.set_xticks([0, 1, 2, 3], ['0', '1.0', '2.0', '3.0'])
ax.set_yticks([1, 2, 3, 4])
ax.tick_params(labelsize=FS, length=6, width=1.3, pad=4)
T(636, 1030, 'Group', ha='center', rotation=90)
T(760, 1194, '\u2212log$_{10}$(FDR)', ha='center')
for (l1, l2), x, y1, y2 in zip(D_TERMS, [731.5, 837.4, 827, 733.4], [915, 977, 1040, 1102.7], [940, 1002.7, 1065, 1127]):
    T(x, y1, l1)
    T(x, y2, l2)

# ---------- draw e ----------
ex0, ex1, ey0, ey1 = 1177, 1407.5, 87.3, 536.4
heat((ex0, ey0, ex1, ey1), decode(E_MATRIX, E_LEVEL_VALUES, 67), -3.08, 4.88)
strip((ex0, 24.8, ex1, 40.7), [GROUP_COL[int(c)] for c in E_GROUP])
strip((ex0, 45.9, ex1, 62), ramp(BUPU, E_PVAL, 0, 9))
strip((ex0, 67.3, ex1, 83.6), ramp(BUGN, E_LAM, 0, 9))
ey = ey0+(np.arange(27)+.5)*(ey1-ey0)/27
rowlabels(E_ROWS, 1170, ey)
tree(E_TREE, ey, lambda z: 980+z/2.8, end=1098, lw=1.6)
T(1411, 32.7, 'Group')
T(1411, 54, 'MedPval')
T(1411, 75.5, 'MedLambda')
T(1088, 61, 'C551', ha='center')
T(1292, 558.6, '67 significant phylogenetic genes', ha='center')
T(1410, 111, 'Relative')
T(1410, 132, 'expression')
colorbar((1412, 150.6, 1429, 410.7), [-2, 0, 2, 4], -3.08, 4.88, 1437)
T(1474.6, 177.6, 'Group')
swatches(1474, 1495, [190, 210, 230.5, 251], [GROUP_COL[i] for i in (1, 2, 3)])
for i, y in enumerate([200, 220, 240.5]):
    T(1500, y, str(i+1))
T(1476, 279, 'MedPval')
swatches(1474, 1494, [291.5, 311, 330, 350, 369.6], BUPU[::-1])
T(1498, 301.5, '3.5')
T(1498, 359.6, '1.5')
T(1414, 434.7, 'MedLambda')
swatches(1412, 1432, [448.8, 468.4, 487.6, 506.9, 526.5], BUGN[::-1])
T(1435, 458.7, '0.9')
T(1435, 516.8, '0.5')

# ---------- draw f ----------
fx0, fx1, fy0, fy1 = 1150.7, 1393, 719, 1175
heat((fx0, fy0, fx1, fy1), decode(F_MATRIX, F_LEVEL_VALUES, 90), -3.1, 2.93)
strip((fx0, 656.3, fx1, 672.6), [mute(GROUP_COL[int(c)]) for c in F_GROUP])
strip((fx0, 677.7, fx1, 694), ramp(BUPU, F_PVAL, 0, 9))
strip((fx0, 699, fx1, 715.5), ramp(BUGN, F_LAM, 0, 9))
fy = fy0+(np.arange(8)+.5)*(fy1-fy0)/8
rowlabels(F_ROWS, 1144, fy)
tree(F_TREE, fy, lambda z: 980+z/2.8, end=1082, lw=1.6)
T(1399.6, 662, 'Group')
T(1399.6, 679, 'MedPval')
T(1399.6, 700, 'MedLambda')
T(1084.6, 694.4, 'C554', ha='center')
T(1273, 1196.8, '1,500 significant phylogenetic genes', ha='center')
T(1396.8, 741.7, 'Relative')
T(1396.8, 762.8, 'expression')
colorbar((1397, 791, 1414.6, 1047), [-3, -2, -1, 0, 1, 2, 3], -3.1, 2.93, 1422)
T(1472, 816.8, 'Group')
swatches(1472, 1492.5, [828.7, 849.4, 870, 890.5], [GROUP_COL[i] for i in (1, 2, 3)])
for i, y in enumerate([838.7, 859.4, 880]):
    T(1497, y, str(i+1))
T(1473.6, 918.6, 'MedPval')
swatches(1472, 1491.5, [930.8, 950, 969.6, 989, 1008.8], BUPU[::-1])
T(1495, 940.8, '3.5')
T(1495, 998.9, '1.5')
T(1399, 1072.8, 'MedLambda')
swatches(1397, 1416.4, [1086.5, 1106, 1125.8, 1145, 1164.6], BUGN[::-1])
T(1420.7, 1097, '0.9')
T(1420.7, 1155, '0.5')

# ---------- draw g ----------
gx0, gx1, gy0, gy1 = 1650, 1879, 53.2, 1099
G_M = np.array(G_VALUES)
heat((gx0, gy0, gx1, gy1), G_M, 0, 5)
strip((1596, gy0, 1611, gy1), [BUPU[3] if n == 4 else BUPU[0] for n in G_NUMREC], horizontal=False)
strip((1612, gy0, 1627, gy1), [GROUP_COL[g] for g in G_GROUP], horizontal=False)
strip((1628.5, gy0, 1644, gy1), ramp(BUGN, G_MEAN, .5, 2), horizontal=False)
gdy, gdx = (gy1-gy0)/61, (gx1-gx0)/8
gxs = [gx0+(i+.5)*gdx for i in range(8)]
for r, g in enumerate(G_GENES):
    yy = gy0+(r+.5)*gdy
    T(1883, yy, g, style='italic')
    for c in range(8):
        stars(gxs[c], yy, G_M[r, c], 1.05, 2.3, 3.15)
for c, s in enumerate(G_SAMPLES):
    T(gxs[c], 1105, s, ha='center', va='top', rotation=90)
top_tree(G_TREE, gxs, gy0, lambda z: z/2.613)
T(1989, 51.7, '\u2212log$_{10}$($\\mathit{P}$ value)', size=14.2)
colorbar((2009, 82.3, 2043, 594), [0, 1, 2, 3, 4, 5], 0, 5, 2056)
T(2013, 632, 'NumRec')
swatches(2012, 2046, [649.3, 682.6, 716, 749, 782], BUPU[::-1])
T(2052.6, 665.8, '4')
T(2052.6, 765, '3')
T(2013, 815.8, 'Group')
swatches(2012, 2046, [831.9, 865, 898.5, 931.4], [GROUP_COL[i] for i in (1, 2, 3)])
for i, y in enumerate([848.7, 881.6, 914.5]):
    T(2052.6, y, str(i+1))
T(2013, 966.2, 'Mean')
T(2013, 991, 'Mean exp.')
swatches(2012, 2046, [1002.6, 1035.8, 1069, 1102, 1135], BUGN[::-1])
T(2052.6, 1018.6, '2')
T(2052.6, 1118, '0.5')

# ---------- draw h ----------
ax = box(57.7, 1311, 361.7, 1615.7)
ax.patch.set_alpha(0)
for i, g in enumerate(H_GROUPS):
    c = GROUP_COL[g]
    ax.barh(g-.167, H_NONPHYLO[i], height=.334, facecolor='white', edgecolor=c, hatch='/////', lw=1)
    ax.barh(g+.167, H_PHYLO[i], height=.334, color=c)
ax.set_xlim(0, 100)
ax.set_ylim(3.447, .56)
for s in ('top', 'right'):
    ax.spines[s].set_visible(False)
ax.spines['left'].set_linewidth(1.5)
ax.spines['bottom'].set_linewidth(1.5)
ax.set_yticks(H_GROUPS)
ax.set_xticks([0, 20, 40, 60, 80, 100])
ax.tick_params(labelsize=FS, length=6, width=1.2, pad=4)
T(12, 1473.6, 'Group', ha='center', rotation=90)
T(212, 1665, 'Percentage of genes', ha='center')
T(53, 1287, r'$\mathit{X}^{2}$ = 79.5; d.f. = 2; $\mathit{P}$ = 5.56 × 10$^{-18}$')
ov.add_patch(Rectangle((241, 1462.7), 16, 12.9, fc='white', ec='#999999', hatch='/////', lw=1))
ov.add_patch(Rectangle((241, 1486), 16, 13, fc='#999999', ec='none'))
T(270, 1471, 'Non-phylo')
T(270, 1494, 'Phylo')

# ---------- draw i ----------
T(190, 1760, 'PPAR signalling pathway', ha='center')
T(190, 1785, 'FDR = 0.0075', ha='center')
I_NODES = {'HMGCS2': (61, 1856), 'CPT1A': (122.7, 1933), 'PPARG': (209, 1859.6), 'FABP2': (278.7, 1933)}
I_EDGES = [('HMGCS2', 'CPT1A'), ('CPT1A', 'PPARG'), ('PPARG', 'FABP2')]
for a_, b_ in I_EDGES:
    p, q = I_NODES[a_], I_NODES[b_]
    ov.plot([p[0], q[0]], [p[1], q[1]], color='#b4b7c8', lw=4, zorder=1)
for name, (cx, cy) in I_NODES.items():
    ov.add_patch(Ellipse((cx, cy+5), 54, 54, fc='#6e6e6e', ec='none', zorder=2))
    ov.add_patch(Circle((cx, cy), 27, fc='#cc5a60', ec='none', zorder=3))
    ov.add_patch(Circle((cx, cy+2), 24, fc='#e37c80', ec='none', zorder=3))
    ov.add_patch(Ellipse((cx, cy-16), 22, 9, fc='#f3cfd0', ec='none', zorder=4))
    for dx, dy, w_, h_ in [(0, 3, 22, 13), (-5, 6, 9, 7), (6, 1, 7, 11), (3, 9, 11, 4)]:
        ov.add_patch(Ellipse((cx+dx, cy+dy), w_, h_, fc='none', ec='#c2206e', lw=.6, zorder=5))
for name, x, y in [('HMGCS2', 86, 1826), ('PPARG', 233, 1828), ('CPT1A', 157, 1925.7), ('FABP2', 303, 1901.8)]:
    T(x, y, name, style='italic')

# ---------- draw j ----------
jx0, jx1, jy0, jy1 = 627, 1323.7, 1381.7, 1956.5
CLASS_BY_ID = dict(zip(K_IDS, K_CLASS))
heat((jx0, jy0, jx1, jy1), decode(J_MATRIX, J_LEVEL_VALUES, 48), -5, 5.04)
strip((jx0, 1315.8, jx1, 1333), [CLASS_COL[CLASS_BY_ID[i]] for i in J_COLS])
strip((jx0, 1337.8, jx1, 1354.5), ramp(BUPU, J_PVAL, 0, 6))
strip((jx0, 1359.8, jx1, 1376.5), ramp(BUGN, (J_LAM+[.2]*48)[:48], .2, .8))
jy = jy0+(np.arange(31)+.5)*(jy1-jy0)/31
rowlabels(J_ROWS, 617.3, jy)
tree(J_TREE, jy, lambda z: 430+z/2.376, end=546, lw=1.1)
jdx = (jx1-jx0)/48
for i, c in enumerate(J_COLS):
    T(jx0+(i+.5)*jdx, 1964.5 if i % 2 else 1990, str(c), ha='center', va='top', rotation=90)
T(564, 1346.3, 'C559', ha='center')
T(1326.8, 1325, 'Group')
T(1326.8, 1346, 'MedPval')
T(1326.8, 1367.5, 'MedLambda')
T(1333, 1399, 'Relative')
T(1333, 1423.8, 'enrichment')
colorbar((1333, 1434.8, 1354, 1752), [-4, -2, 0, 2, 4], -5, 5.04, 1363)
T(1407.7, 1457, 'MedPval')
swatches(1407.7, 1429, [1472, 1494, 1515, 1536, 1557], BUPU[::-1])
T(1433, 1482.5, '6')
T(1433, 1546.6, '0')
T(1333, 1775.4, 'Class')
swatches(1332.6, 1354, [1787.9, 1809.4, 1830.4, 1851.9, 1872.9, 1894.4], [CLASS_COL[k] for k in 'IOCSX'])
CLASS_NAMES = ['Immune', 'Oncogenic', 'Cellular stress', 'Stromal', 'Other']
for n, y in zip(CLASS_NAMES, [1798.8, 1820.3, 1841.4, 1862.4, 1883.9]):
    T(1358.8, y, n)
T(1334.7, 1924, 'MedLambda')
swatches(1333.6, 1354.7, [1936.4, 1957.5, 1978.5, 1999.5, 2020.5], BUGN[::-1])
T(1359.5, 1947.5, '0.8')
T(1359.5, 2010.5, '0.2')

# ---------- draw k ----------
kx0, kx1, ky0, ky1 = 1597.3, 1886, 1318.7, 1953.8
K_M = np.array(K_VALUES)
heat((kx0, ky0, kx1, ky1), K_M, 0, 7)
strip((1553.4, ky0, 1570, ky1), [CLASS_COL[c] for c in K_CLASS], horizontal=False)
strip((1576, ky0, 1592, ky1), ramp(BUGN, K_NUMSIG, 0, 3), horizontal=False)
kdy, kdx = (ky1-ky0)/48, (kx1-kx0)/8
kxs = [kx0+(i+.5)*kdx for i in range(8)]
for r, i in enumerate(K_IDS):
    yy = ky0+(r+.5)*kdy
    T(1891 if r % 2 == 0 else 1921, yy, str(i))
    for c in range(8):
        stars(kxs[c], yy, K_M[r, c], .95, 2.05, 3.5)
for c, s in enumerate(K_SAMPLES):
    T(kxs[c], 1961, s, ha='center', va='top', rotation=90)
T(1561, 1960, 'Class', ha='center', va='top', rotation=90)
T(1584, 1960, 'Num Sig', ha='center', va='top', rotation=90)
top_tree(K_TREE, kxs, ky0, lambda z: 1280+z/2.066)
T(1967, 1323.6, '\u2212log$_{10}$($\\mathit{P}$ value)')
colorbar((1967, 1359, 1992, 1723), [0, 1, 2, 3, 4, 5, 6, 7], 0, 7, 2000)
T(1967, 1759, 'Class')
swatches(1967, 1987.6, [1770.3, 1791, 1812.4, 1833, 1854.5, 1875.3], [CLASS_COL[k] for k in 'IOCSX'])
for n, y in zip(CLASS_NAMES, [1781.5, 1802, 1823.6, 1845, 1865.7]):
    T(1992, y, n)
T(1966, 1913.6, 'Num Sig')
swatches(1965, 1986, [1924.7, 1945.6, 1967.3, 1988.6, 2009.4], BUGN[::-1])
T(1990.7, 1935, '3')
T(1990.7, 1998, '0')

fig.savefig('out.png', dpi=100, facecolor='white')
